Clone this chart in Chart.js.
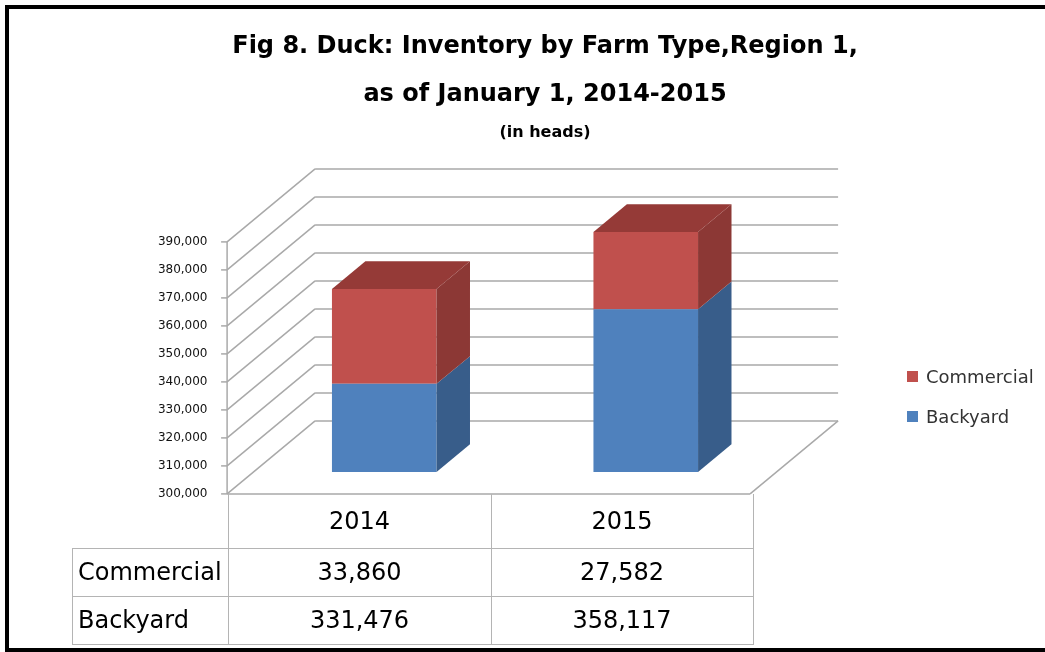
<!DOCTYPE html>
<html lang="en">
<head>
<meta charset="UTF-8">
<title>Duck Inventory by Farm Type, Region 1</title>
<script src="https://cdn.jsdelivr.net/npm/chart.js@4.4.1/dist/chart.umd.min.js"></script>
<style>
  html, body { margin: 0; padding: 0; background: #fff; overflow: hidden; }
  #wrap { position: relative; width: 1045px; height: 652px; font-family: 'DejaVu Sans', sans-serif; }
  #frame { position: absolute; left: 5px; top: 5px; width: 1100px; height: 647px; box-sizing: border-box; border: 4px solid #000; pointer-events: none; }
  #box { position: absolute; left: 0; top: 0; width: 1045px; height: 652px; }
  #legend { position: absolute; left: 907px; top: 364px; font-size: 18px; color: #333; }
  #legend div { height: 40px; line-height: 26px; white-space: nowrap; }
  #legend span { display: inline-block; width: 11px; height: 11px; margin-right: 8px; vertical-align: 1px; }
  #tbl { position: absolute; left: 72px; top: 494px; border-collapse: collapse; font-size: 24px; color: #000; }
  #tbl td { border: 1.5px solid #b4b4b4; padding: 0; text-align: center; }
  #tbl td.lab { text-align: left; padding-left: 5px; }
  #tbl td.blank { border: none; }
</style>
</head>
<body>
<div id="wrap">
  <div id="box"><canvas id="chart"></canvas></div>
  <div id="legend"></div>
  <table id="tbl"></table>
  <div id="frame"></div>
</div>

<script>
// data
const years = ['2014', '2015'];
const backyard = [331476, 358117];
const commercial = [33860, 27582];
const yTicksMin = 300000;
const yTicksMax = 390000;
const yStep = 10000;

const fmt = v => v.toLocaleString('en-US');

// stacked values (Excel draws the stack from the axis minimum)
const backyardTop = backyard.map(v => v);
const commercialTop = backyard.map((v, i) => v + commercial[i]);

const colors = {
    backyard: { front: '#4F81BD', side: '#385D8A', top: '#3F6797' },
    commercial: { front: '#C0504D', side: '#8C3835', top: '#953A37' }
};
const gridColor = '#a9a9a9';

// depth of the 3d box, in pixels
const depth = { x: 88, y: -73 };
const frontPlane = -0.3;   // floor/axis front edge relative to bar plane
const barDepth = 0.38;

function line(ctx, x1, y1, x2, y2) {
    ctx.beginPath();
    ctx.moveTo(x1, y1);
    ctx.lineTo(x2, y2);
    ctx.stroke();
}
function poly(ctx, pts, fill) {
    ctx.beginPath();
    ctx.moveTo(pts[0][0], pts[0][1]);
    pts.slice(1).forEach(p => ctx.lineTo(p[0], p[1]));
    ctx.closePath();
    ctx.fillStyle = fill;
    ctx.fill();
}

// walls, floor and axis drawn from the y scale
const walls3d = {
    id: 'walls3d',
    beforeDatasetsDraw(chart) {
        const { ctx, chartArea: a, scales: { y } } = chart;
        const fx = a.left + depth.x * frontPlane, fxr = a.right + depth.x * frontPlane;
        const bx = a.left + depth.x * (frontPlane + 1), bxr = a.right + depth.x * (frontPlane + 1);
        const fdy = depth.y * frontPlane, bdy = depth.y * (frontPlane + 1);
        ctx.save();
        ctx.strokeStyle = gridColor;
        ctx.lineWidth = 1.5;
        y.ticks.forEach(t => {
            const py = y.getPixelForValue(t.value);
            line(ctx, fx, py + fdy, bx, py + bdy);
            line(ctx, bx, py + bdy, bxr, py + bdy);
            line(ctx, fx - 6, py + fdy, fx, py + fdy);
        });
        const yTop = y.getPixelForValue(yTicksMax), yBot = y.getPixelForValue(yTicksMin);
        // vertical axis
        line(ctx, fx, yTop + fdy, fx, yBot + fdy);
        // floor
        line(ctx, fx, yBot + fdy, fxr, yBot + fdy);
        line(ctx, fxr, yBot + fdy, bxr, yBot + bdy);
        ctx.restore();
    },
    afterDatasetsDraw(chart) {
        const { ctx } = chart;
        const dx = depth.x * barDepth, dy = depth.y * barDepth;
        const last = chart.data.datasets.length - 1;
        ctx.save();
        chart.data.datasets.forEach((ds, i) => {
            const meta = chart.getDatasetMeta(i);
            meta.data.forEach(bar => {
                const { x, y, base, width } = bar.getProps(['x', 'y', 'base', 'width'], true);
                const l = x - width / 2, r = x + width / 2;
                const top = Math.min(y, base), bot = Math.max(y, base);
                poly(ctx, [[r, top], [r + dx, top + dy], [r + dx, bot + dy], [r, bot]], ds.sideColor);
                if (i === last) {
                    poly(ctx, [[l, top], [l + dx, top + dy], [r + dx, top + dy], [r, top]], ds.topColor);
                }
            });
        });
        ctx.restore();
    }
};

Chart.defaults.font.family = "'DejaVu Sans', sans-serif";

const chart = new Chart(document.getElementById('chart'), {
    type: 'bar',
    data: {
        labels: years,
        datasets: [
            {
                label: 'Backyard',
                data: backyardTop.map(v => [yTicksMin, v]),
                backgroundColor: colors.backyard.front,
                sideColor: colors.backyard.side,
                topColor: colors.backyard.top
            },
            {
                label: 'Commercial',
                data: commercialTop.map((v, i) => [backyardTop[i], v]),
                backgroundColor: colors.commercial.front,
                sideColor: colors.commercial.side,
                topColor: colors.commercial.top
            }
        ]
    },
    options: {
        responsive: true,
        maintainAspectRatio: false,
        animation: false,
        layout: { padding: { left: 45, right: 0, top: 23, bottom: 180 } },
        datasets: { bar: { grouped: false, categoryPercentage: 1, barPercentage: 0.4, borderSkipped: false } },
        scales: {
            x: { display: false },
            y: {
                min: yTicksMin,
                max: yTicksMax,
                afterFit: s => { s.width = 208.5; },
                grid: { display: false, drawTicks: false },
                border: { display: false },
                ticks: {
                    stepSize: yStep,
                    padding: 46,
                    labelOffset: 22,
                    color: '#111',
                    font: { size: 12 },
                    callback: v => fmt(v)
                }
            },
            // empty right-hand band that holds the legend area
            yRight: {
                type: 'linear',
                position: 'right',
                min: yTicksMin,
                max: yTicksMax,
                afterFit: s => { s.width = 268.5; },
                grid: { display: false, drawTicks: false },
                border: { display: false },
                ticks: { display: false }
            }
        },
        plugins: {
            legend: { display: false },
            tooltip: { enabled: false },
            title: {
                display: true,
                text: ['Fig 8. Duck: Inventory by Farm Type,Region 1,', 'as of January 1, 2014-2015'],
                color: '#000',
                font: { size: 24, weight: 'bold', lineHeight: 2 },
                padding: { top: 0, bottom: 4 }
            },
            subtitle: {
                display: true,
                text: '(in heads)',
                color: '#000',
                font: { size: 16, weight: 'bold', lineHeight: 1.2 },
                padding: { top: 0, bottom: 77.8 }
            }
        }
    },
    plugins: [walls3d]
});

// legend (reverse order, like the stack)
const legend = document.getElementById('legend');
chart.data.datasets.slice().reverse().forEach(ds => {
    const d = document.createElement('div');
    d.innerHTML = `<span style="background:${ds.backgroundColor}"></span>${ds.label}`;
    legend.appendChild(d);
});

// data table under the plot
const tbl = document.getElementById('tbl');
const colW = [155, 262, 261];
let html = `<tr style="height:54px"><td class="blank" style="width:${colW[0]}px"></td>`;
years.forEach((yr, i) => { html += `<td style="width:${colW[i + 1]}px;border-top:none">${yr}</td>`; });
html += '</tr>';
[['Commercial', commercial], ['Backyard', backyard]].forEach(([name, vals]) => {
    html += `<tr style="height:48px"><td class="lab">${name}</td>`;
    vals.forEach(v => { html += `<td>${fmt(v)}</td>`; });
    html += '</tr>';
});
tbl.innerHTML = html;
</script>
</body>
</html>
